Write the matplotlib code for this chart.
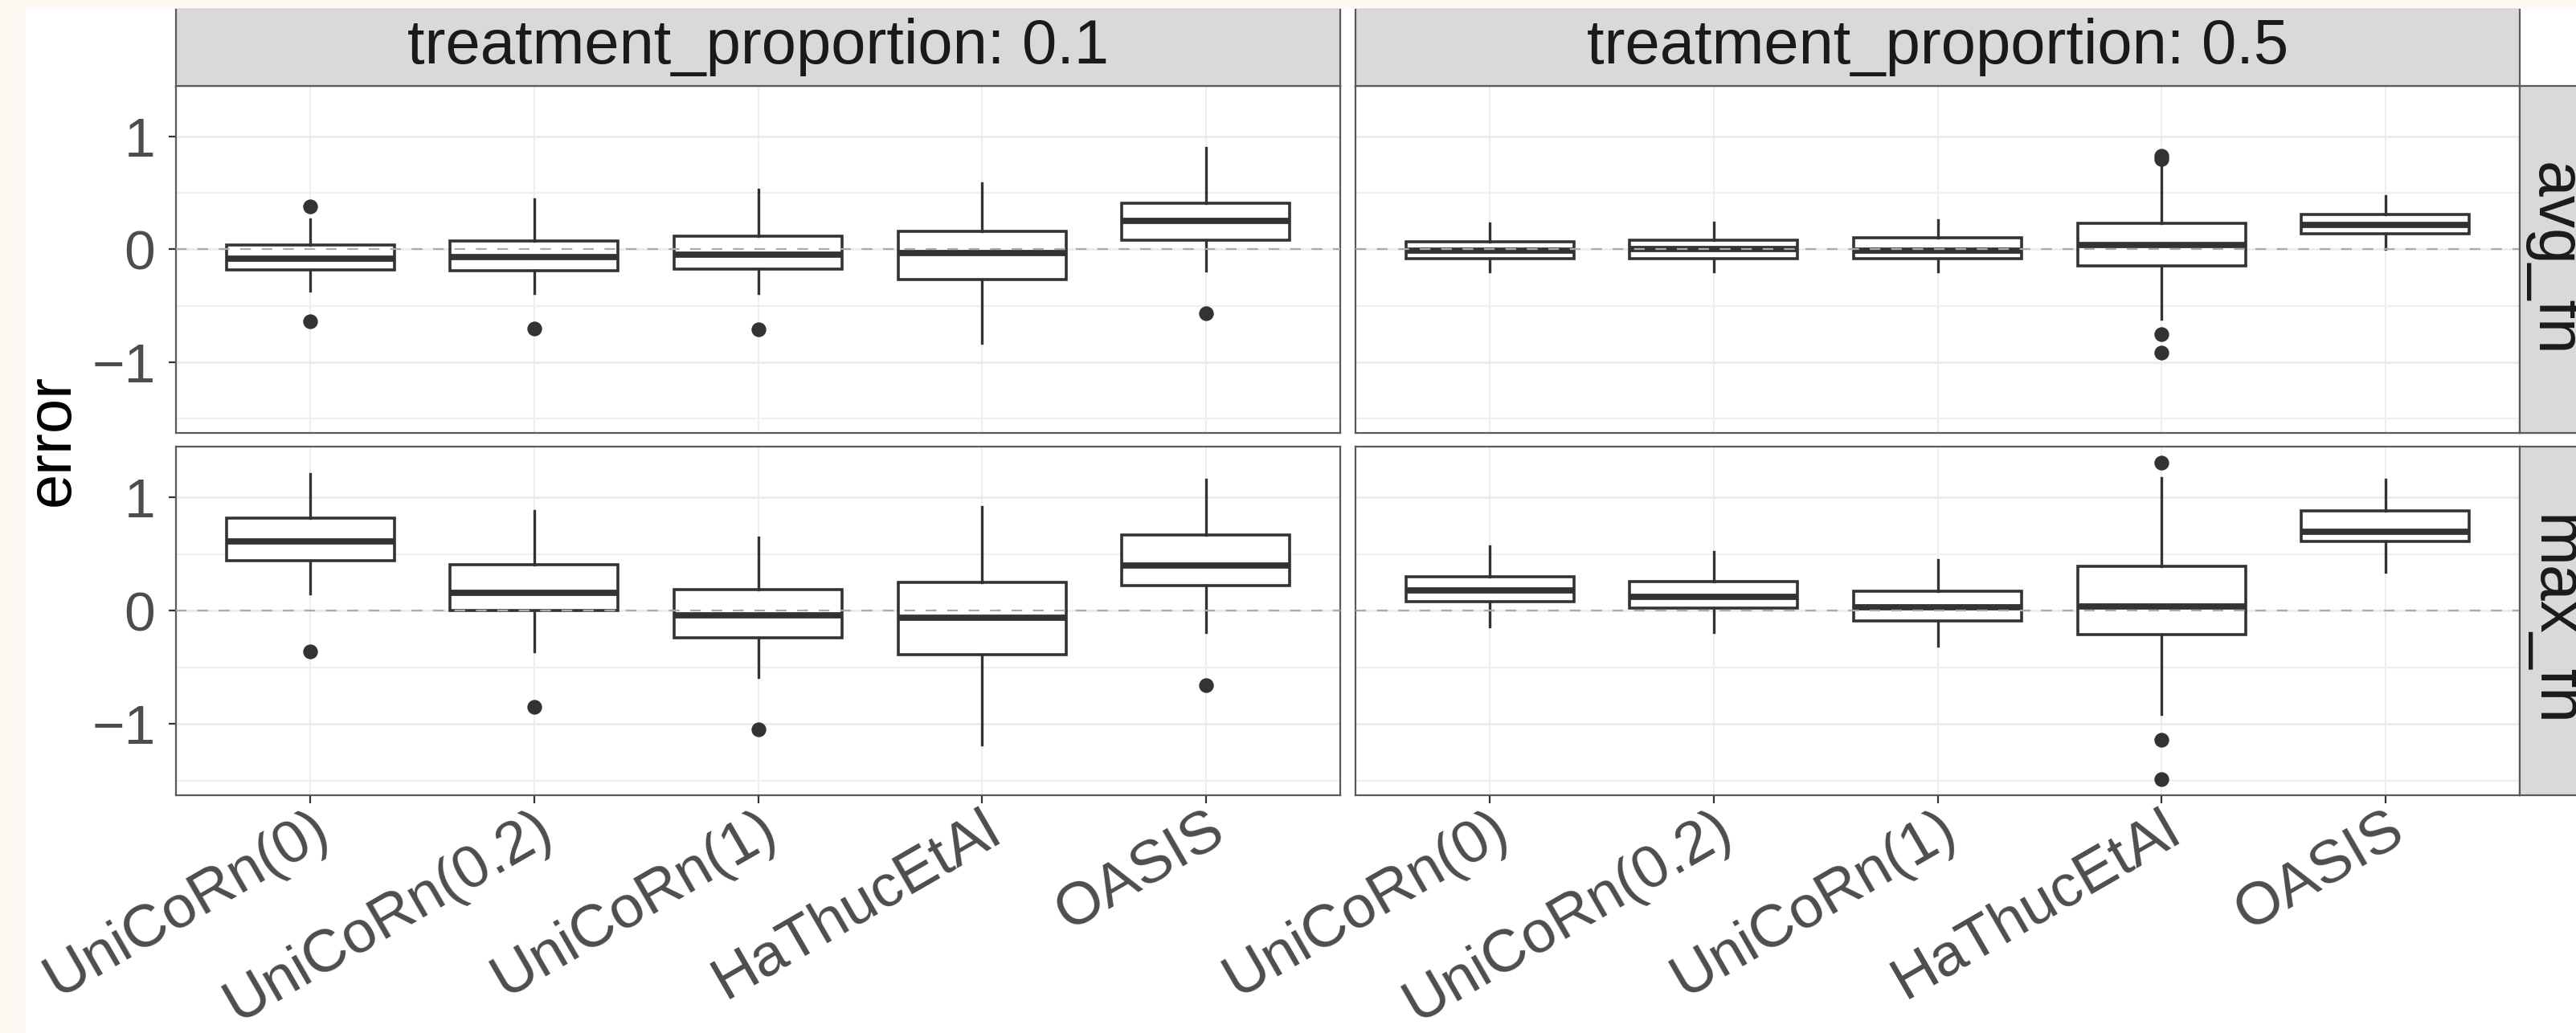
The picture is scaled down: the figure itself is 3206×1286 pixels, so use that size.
import matplotlib
matplotlib.use("Agg")
import matplotlib.pyplot as plt
from matplotlib.patches import Rectangle

plt.rcParams['font.family'] = ['Liberation Sans', 'DejaVu Sans']

methods = ["UniCoRn(0)", "UniCoRn(0.2)", "UniCoRn(1)", "HaThucEtAl", "OASIS"]
proportions = ["0.1", "0.5"]
metrics = ["avg_fn", "max_fn"]

# box statistics per panel, order: (avg_fn, 0.1), (avg_fn, 0.5), (max_fn, 0.1), (max_fn, 0.5)
whis_lo = [
    [-0.37, -0.39, -0.39, -0.83, -0.19],
    [-0.20, -0.20, -0.20, -0.62, 0.00],
    [0.15, -0.36, -0.59, -1.18, -0.19],
    [-0.14, -0.19, -0.31, -0.91, 0.34],
]
q1 = [
    [-0.18, -0.19, -0.175, -0.27, 0.08],
    [-0.08, -0.08, -0.08, -0.15, 0.14],
    [0.44, 0.00, -0.24, -0.39, 0.225],
    [0.08, 0.02, -0.09, -0.21, 0.61],
]
median = [
    [-0.08, -0.07, -0.045, -0.03, 0.25],
    [-0.01, 0.00, -0.01, 0.04, 0.22],
    [0.61, 0.155, -0.04, -0.06, 0.40],
    [0.18, 0.12, 0.03, 0.035, 0.70],
]
q3 = [
    [0.04, 0.075, 0.12, 0.16, 0.41],
    [0.07, 0.08, 0.10, 0.23, 0.31],
    [0.82, 0.41, 0.186, 0.25, 0.67],
    [0.30, 0.26, 0.17, 0.39, 0.88],
]
whis_hi = [
    [0.27, 0.445, 0.53, 0.59, 0.90],
    [0.23, 0.24, 0.26, 0.76, 0.47],
    [1.21, 0.88, 0.645, 0.92, 1.16],
    [0.57, 0.52, 0.45, 1.17, 1.16],
]
outliers = [
    [[0.38, -0.64], [-0.70], [-0.71], [], [-0.57]],
    [[], [], [], [0.80, 0.83, -0.75, -0.92], []],
    [[-0.36], [-0.85], [-1.05], [], [-0.655]],
    [[], [], [], [1.31, -1.14, -1.49], []],
]

W, H = 3206, 1286
fig = plt.figure(figsize=(W / 200, H / 200), dpi=200, facecolor="white")


def rect(x0, y0, x1, y1):
    return [x0 / W, 1 - y1 / H, (x1 - x0) / W, (y1 - y0) / H]


# thin off-white margins along the top and left edges
fig.patches.append(Rectangle((0, 1 - 9 / H), 1, 9 / H, transform=fig.transFigure,
                             color="#FDF9F3", zorder=0))
fig.patches.append(Rectangle((0, 0), 30 / W, 1, transform=fig.transFigure,
                             color="#FDF9F3", zorder=0))

cols = [(219, 1668), (1687, 3136)]
rows = [(107, 539), (556, 990)]
strip_top = (10, 107)
strip_right = (3136, 3233)

border = "#5A5A5A"
box_col = "#333333"

all_vals = [v for p in whis_lo for v in p] + [v for p in whis_hi for v in p]
all_vals += [v for p in outliers for b in p for v in b]
lo, hi = min(all_vals), max(all_vals)
pad = 0.05 * (hi - lo)
ylim = (lo - pad, hi + pad)

positions = list(range(1, len(methods) + 1))

for r, metric in enumerate(metrics):
    for c, prop in enumerate(proportions):
        k = r * 2 + c
        x0, x1 = cols[c]
        y0, y1 = rows[r]
        ax = fig.add_axes(rect(x0, y0, x1, y1))
        ax.set_facecolor("white")

        stats = []
        for i, m in enumerate(methods):
            stats.append(dict(label=m, med=median[k][i], q1=q1[k][i], q3=q3[k][i],
                              whislo=whis_lo[k][i], whishi=whis_hi[k][i],
                              fliers=outliers[k][i]))
        ax.bxp(stats, positions=positions, widths=0.75, patch_artist=True,
               showcaps=False, showfliers=True,
               boxprops=dict(facecolor="white", edgecolor=box_col, linewidth=1.3),
               medianprops=dict(color=box_col, linewidth=2.8, solid_capstyle="butt"),
               whiskerprops=dict(color=box_col, linewidth=1.2),
               flierprops=dict(marker="o", markerfacecolor=box_col,
                               markeredgecolor=box_col, markersize=5.6))
        ax.axhline(0, color="#ABABAB", linewidth=0.8, linestyle=(0, (6, 6)), zorder=6)

        ax.set_xlim(0.4, 5.6)
        ax.set_ylim(*ylim)
        ax.set_yticks([-1, 0, 1])
        ax.set_yticks([-1.5, -0.5, 0.5], minor=True)
        ax.set_axisbelow(True)
        ax.grid(which="major", axis="y", color="#EBEBEB", linewidth=1.0)
        ax.grid(which="minor", axis="y", color="#EFEFEF", linewidth=0.8)
        ax.grid(which="major", axis="x", color="#EBEBEB", linewidth=0.6)
        for s in ax.spines.values():
            s.set_color(border)
            s.set_linewidth(0.8)
        ax.tick_params(which="minor", length=0)

        if c == 0:
            ax.tick_params(axis="y", which="major", length=3.2, width=0.8, color=box_col,
                           labelsize=25, labelcolor="#4D4D4D", pad=6)
            ax.set_yticklabels(["\u22121", "0", "1"])
        else:
            ax.tick_params(axis="y", which="major", length=0, labelleft=False)

        ax.set_xticks(positions)
        if r == len(metrics) - 1:
            ax.set_xticklabels(methods, rotation=30, ha="right", va="top",
                               rotation_mode="anchor")
            ax.tick_params(axis="x", length=3.6, width=0.8, color=box_col,
                           labelsize=27, labelcolor="#4D4D4D", pad=-1)
        else:
            ax.tick_params(axis="x", length=0, labelbottom=False)

# column strips
for c, prop in enumerate(proportions):
    x0, x1 = cols[c]
    sax = fig.add_axes(rect(x0, strip_top[0], x1, strip_top[1]))
    sax.set_facecolor("#D9D9D9")
    sax.set_xticks([])
    sax.set_yticks([])
    for s in sax.spines.values():
        s.set_color(border)
        s.set_linewidth(0.8)
    sax.text(0.5, 0.5, f"treatment_proportion: {prop}", transform=sax.transAxes,
             ha="center", va="center", fontsize=28, color="#1A1A1A")

# row strips, running off the right edge of the figure
for r, metric in enumerate(metrics):
    y0, y1 = rows[r]
    sax = fig.add_axes(rect(strip_right[0], y0, strip_right[1], y1))
    sax.set_facecolor("#D9D9D9")
    sax.set_xticks([])
    sax.set_yticks([])
    for s in sax.spines.values():
        s.set_color(border)
        s.set_linewidth(0.8)
    fig.text(3157 / W, 1 - (y0 + y1) / 2 / H, metric, rotation=-90,
             rotation_mode="anchor", ha="center", va="baseline",
             fontsize=29, color="#1A1A1A")

fig.text(65 / W, 1 - 548 / H, "error", rotation=90, ha="center", va="center",
         fontsize=28, color="black")

fig.savefig("out.png", dpi=200, facecolor="white")
